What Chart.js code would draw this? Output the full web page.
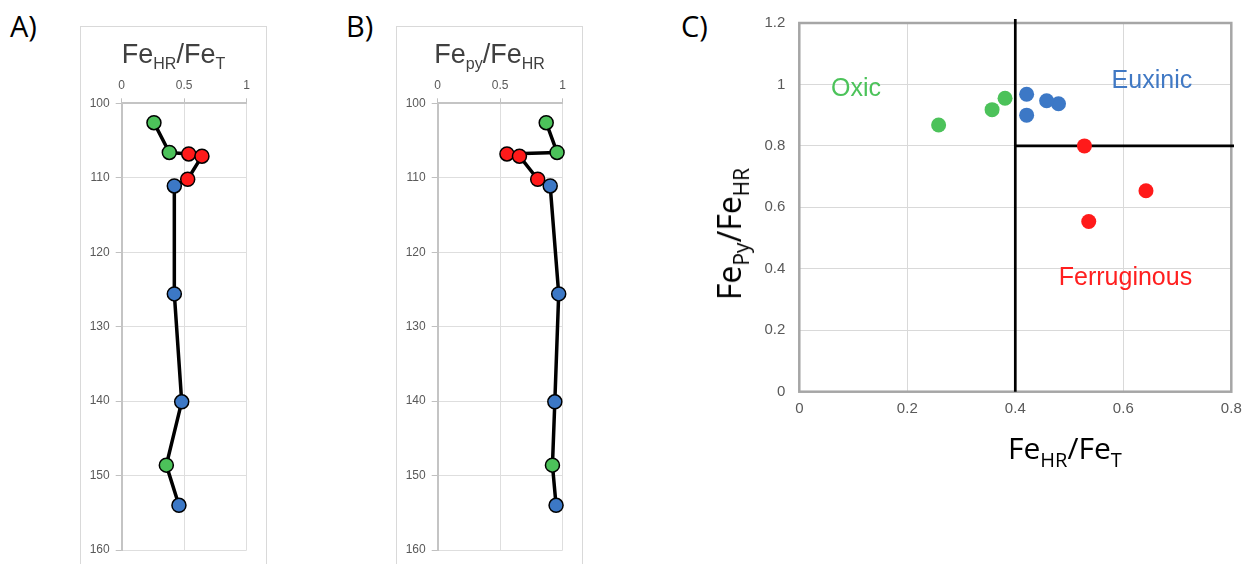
<!DOCTYPE html>
<html>
<head>
<meta charset="utf-8">
<script src="https://cdn.jsdelivr.net/npm/chart.js@4.4.1/dist/chart.umd.min.js"></script>
<style>
  body { margin: 0; width: 1252px; height: 564px; position: relative; overflow: hidden; background: #fff; }
  .box { position: absolute; top: 26px; height: 560px; box-sizing: border-box; border: 1px solid #d9d9d9; }
  canvas { position: absolute; }
  .lbl { position: absolute; font-family: 'Open Sans', sans-serif; font-size: 29px; line-height: 36px; top: 8px; color: #000; }
  .ttl { position: absolute; top: 39px; font-family: 'Liberation Sans', Arial, sans-serif; font-size: 27px; line-height: 30px;
         color: #404040; white-space: nowrap; text-align: center; }
  .ttl span { font-size: 16px; position: relative; top: 6px; }
  .axt { position: absolute; font-family: 'Open Sans', sans-serif; white-space: nowrap; color: #000; }
  .axt span { position: relative; }
</style>
</head>
<body>
<div class="lbl" style="left:10px">A)</div>
<div class="lbl" style="left:346px">B)</div>
<div class="lbl" style="left:681px">C)</div>

<div class="box" style="left:80px;width:187px"></div>
<div class="box" style="left:396px;width:187px"></div>
<canvas id="chartA" width="186" height="538" style="left:80px;top:26px"></canvas>
<canvas id="chartB" width="186" height="538" style="left:396px;top:26px"></canvas>
<div class="ttl" style="left:80px;width:187px">Fe<span>HR</span>/Fe<span>T</span></div>
<div class="ttl" style="left:396px;width:187px">Fe<span>py</span>/Fe<span>HR</span></div>

<canvas id="chartC" width="532" height="564" style="left:720px;top:0px"></canvas>
<div class="axt" style="left:1008px;top:428px;font-size:30px;line-height:40px">Fe<span style="font-size:20px;top:8px">HR</span>/Fe<span style="font-size:20px;top:8px">T</span></div>
<div class="axt" style="left:731px;top:234px;font-size:32px;line-height:40px;transform:translate(-50%,-50%) rotate(-90deg)">Fe<span style="font-size:21px;top:8px">Py</span>/Fe<span style="font-size:21px;top:8px">HR</span></div>

<script>
// samples, top to bottom
const depths = [102.6, 106.6, 106.8, 107.1, 110.2, 111.1, 125.6, 140.1, 148.6, 154.0];
const feHrFeT = [0.258, 0.381, 0.536, 0.642, 0.528, 0.421, 0.421, 0.480, 0.357, 0.458];
const fePyFeHr = [0.868, 0.955, 0.554, 0.654, 0.800, 0.900, 0.968, 0.937, 0.918, 0.947];
const redox = ['oxic', 'oxic', 'ferruginous', 'ferruginous', 'ferruginous', 'euxinic', 'euxinic', 'euxinic', 'oxic', 'euxinic'];

const depthTicks = [100, 160, 10];
const ratioTicks = [0, 1, 0.5];
const crossTicksX = [0, 0.8, 0.2];
const crossTicksY = [0, 1.2, 0.2];

// thresholds
const feHrLimit = 0.4;
const fePyLimit = 0.8;

const regionNames = ['Oxic', 'Euxinic', 'Ferruginous'];
const regionX = [0.105, 0.653, 0.604];
const regionY = [0.986, 1.011, 0.371];

const colors = { oxic: '#4cc25a', euxinic: '#3c78c6', ferruginous: '#ff1a1a' };
const textColors = ['#4cc35a', '#4179c4', '#ff1f1f'];

Chart.defaults.font.family = "'Liberation Sans', Arial, sans-serif";
Chart.defaults.color = '#595959';

function plainNum(v) { return String(+v.toFixed(2)); }

function depthChart(id, values) {
  var pts = values.map(function (v, i) { return { x: v, y: depths[i] }; });
  return new Chart(document.getElementById(id), {
    type: 'scatter',
    data: {
      datasets: [{
        data: pts,
        showLine: true,
        clip: false,
        borderColor: '#000',
        borderWidth: 3.5,
        borderJoinStyle: 'round',
        pointRadius: 7,
        pointBorderWidth: 1.5,
        pointBorderColor: '#000',
        pointBackgroundColor: redox.map(function (r) { return colors[r]; })
      }]
    },
    options: {
      responsive: false,
      animation: false,
      layout: { padding: { top: 49.3, right: 19.3, bottom: 14, left: 0 } },
      plugins: { legend: { display: false }, tooltip: { enabled: false } },
      scales: {
        x: {
          type: 'linear', position: 'top',
          min: ratioTicks[0], max: ratioTicks[1],
          afterFit: function (s) { s.height = 28; },
          ticks: { stepSize: ratioTicks[2], font: { size: 12 }, padding: 5, callback: plainNum },
          grid: { color: '#dedede', tickColor: '#c0c0c0', tickLength: 5 },
          border: { color: '#c4c4c4', width: 2 }
        },
        y: {
          type: 'linear', reverse: true,
          min: depthTicks[0], max: depthTicks[1],
          afterFit: function (s) { s.width = 41.7; },
          ticks: { stepSize: depthTicks[2], font: { size: 12 }, padding: 6, callback: plainNum },
          grid: { color: '#dedede', tickColor: '#c0c0c0', tickLength: 6 },
          border: { color: '#c4c4c4', width: 2 }
        }
      }
    }
  });
}

depthChart('chartA', feHrFeT);
depthChart('chartB', fePyFeHr);

// frame around plot area + region labels
var crossExtras = {
  id: 'crossExtras',
  beforeDatasetsDraw: function (chart) {
    var a = chart.chartArea, ctx = chart.ctx;
    ctx.save();
    ctx.strokeStyle = '#a6a6a6';
    ctx.lineWidth = 2.5;
    ctx.strokeRect(a.left, a.top, a.right - a.left, a.bottom - a.top);
    ctx.restore();
  },
  afterDatasetsDraw: function (chart) {
    var ctx = chart.ctx, sx = chart.scales.x, sy = chart.scales.y;
    ctx.save();
    ctx.font = "25px 'Liberation Sans', Arial, sans-serif";
    ctx.textAlign = 'center';
    ctx.textBaseline = 'middle';
    regionNames.forEach(function (name, i) {
      ctx.fillStyle = textColors[i];
      ctx.fillText(name, sx.getPixelForValue(regionX[i]), sy.getPixelForValue(regionY[i]));
    });
    ctx.restore();
  }
};

function classPoints(cls) {
  var out = [];
  redox.forEach(function (r, i) { if (r === cls) out.push({ x: feHrFeT[i], y: fePyFeHr[i] }); });
  return out;
}

var classDatasets = ['oxic', 'euxinic', 'ferruginous'].map(function (c) {
  return { data: classPoints(c), backgroundColor: colors[c], pointRadius: 7.5, pointBorderWidth: 0, order: 1 };
});

new Chart(document.getElementById('chartC'), {
  type: 'scatter',
  data: {
    datasets: classDatasets.concat([
      { data: [{ x: feHrLimit, y: 0 }, { x: feHrLimit, y: 1.213 }], showLine: true, borderColor: '#000', borderWidth: 2.7,
        pointRadius: 0, clip: false, order: 2 },
      { data: [{ x: feHrLimit, y: fePyLimit }, { x: 0.805, y: fePyLimit }], showLine: true, borderColor: '#000', borderWidth: 2.7,
        pointRadius: 0, clip: false, order: 2 }
    ])
  },
  options: {
    responsive: false,
    animation: false,
    layout: { padding: { top: 19.7, right: 20.7, bottom: 142.3, left: 0 } },
    plugins: { legend: { display: false }, tooltip: { enabled: false } },
    scales: {
      x: {
        type: 'linear', min: crossTicksX[0], max: crossTicksX[1],
        afterFit: function (s) { s.height = 30; },
        ticks: { stepSize: crossTicksX[2], font: { size: 15 }, padding: 8, callback: plainNum },
        grid: { color: '#d9d9d9', drawTicks: false },
        border: { display: false }
      },
      y: {
        type: 'linear', min: crossTicksY[0], max: crossTicksY[1],
        afterFit: function (s) { s.width = 79.3; },
        ticks: { stepSize: crossTicksY[2], font: { size: 15 }, padding: 14, callback: plainNum },
        grid: { color: '#d9d9d9', drawTicks: false },
        border: { display: false }
      }
    }
  },
  plugins: [crossExtras]
});
</script>
</body>
</html>
